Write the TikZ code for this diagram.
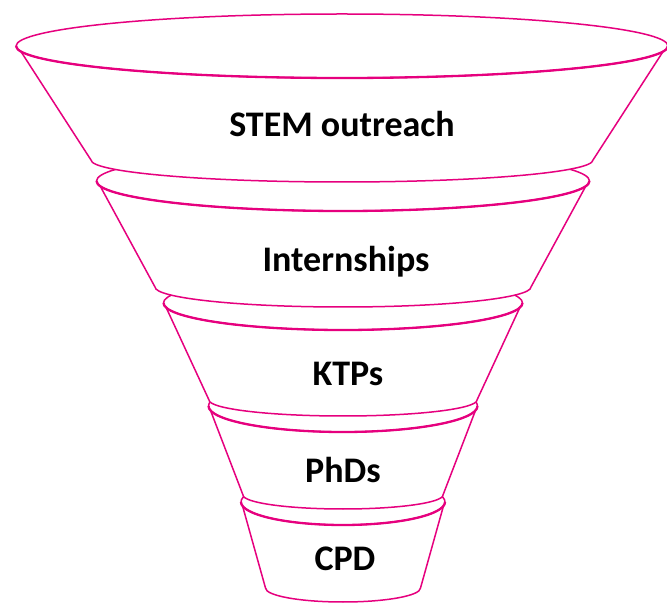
\documentclass[tikz,border=0pt]{standalone}
\usepackage{fontspec}
\setmainfont{Carlito}
\usetikzlibrary{calc}
\definecolor{funnel}{RGB}{230,0,126}
\tikzset{
  rim/.style={draw=funnel, line width=1.5pt, line join=round},
  rimfront/.style={draw=funnel, line width=2.3pt},
  bandlabel/.style={font=\fontsize{36}{43}\selectfont\bfseries, anchor=base, text=black, inner sep=0pt},
}
% One band of the funnel:
% #1 centre x, #2 rim centre y, #3/#4 rim radii, #5 base centre y, #6/#7 base radii
\newcommand\funnelband[7]{%
  \fill[white] ($(#1,#2)+(180:#3 and #4)$)
     arc[start angle=180, end angle=0, x radius=#3, y radius=#4]
     arc[start angle=0, end angle=-10, x radius=#3, y radius=#4]
     -- ($(#1,#5)+(#6,0)$)
     arc[start angle=0, end angle=-180, x radius=#6, y radius=#7]
     -- ($(#1,#2)+(190:#3 and #4)$)
     arc[start angle=190, end angle=180, x radius=#3, y radius=#4] -- cycle;
  \draw[rim] ($(#1,#2)+(190:#3 and #4)$) -- ($(#1,#5)+(-#6,0)$)
     arc[start angle=180, end angle=360, x radius=#6, y radius=#7]
     -- ($(#1,#2)+(-10:#3 and #4)$);
  \draw[rim] (#1,#2) ellipse[x radius=#3, y radius=#4];
  \draw[rimfront] ($(#1,#2)+(180:#3 and #4)$)
     arc[start angle=180, end angle=360, x radius=#3, y radius=#4];
}
\begin{document}
\begin{tikzpicture}[x=1pt, y=1pt]
  \useasboundingbox[fill=white] (0,0) rectangle (667,603);
  % bands, drawn from the narrow end upwards so each one hides the rim behind it
  \funnelband{343}{101}{102}{23}{15}{77.5}{14}
  \funnelband{343}{197}{134.5}{26}{108}{100}{14}
  \funnelband{343}{300}{179.5}{27}{203}{134}{16}
  \funnelband{343}{422}{246.5}{30}{316}{188}{20}
  \funnelband{342}{557}{326}{32}{443}{251}{22}
  % labels
  \node[bandlabel] (stem)   at (342,466) {STEM outreach};
  \node[bandlabel] (intern) at (346,331) {Internships};
  \node[bandlabel] (ktp)    at (348,217) {KTPs};
  \node[bandlabel] (phd)    at (343,121) {PhDs};
  \node[bandlabel] (cpd)    at (345,33)  {CPD};
\end{tikzpicture}
\end{document}
